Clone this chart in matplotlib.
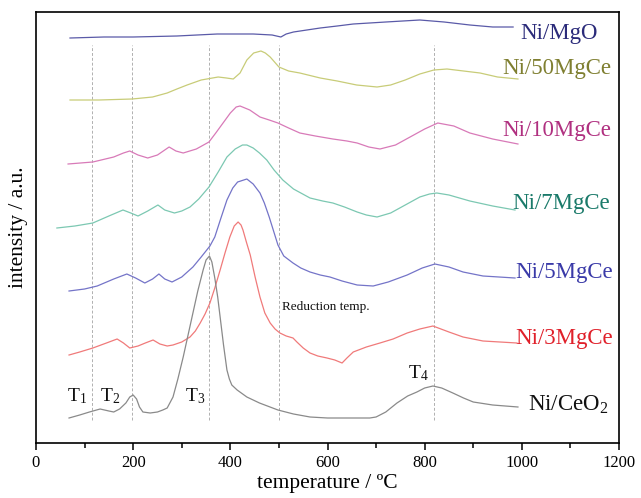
import matplotlib
matplotlib.use("Agg")
import matplotlib.pyplot as plt
from matplotlib.ticker import MultipleLocator

plt.rcParams["font.family"] = ["Liberation Serif", "DejaVu Serif"]
plt.rcParams["mathtext.fontset"] = "custom"
plt.rcParams["mathtext.rm"] = "Liberation Serif"
plt.rcParams["mathtext.it"] = "Liberation Serif:italic"

# TPR profiles, stacked with an arbitrary offset (temperature in degC, signal in a.u.)
t_mgo = [70, 140, 200, 290, 373, 447, 486, 504, 515, 530, 585, 620, 653, 720, 790, 840, 893, 940, 982]
i_mgo = [405, 406, 406, 407, 409, 409, 408, 406, 409, 411, 415, 417, 419, 421, 423, 421, 418, 416, 416]

t_50 = [70, 130, 198, 240, 270, 290, 311, 340, 375, 392, 406, 420, 434, 448, 463, 472, 482, 491, 500,
        520, 543, 585, 620, 660, 702, 730, 760, 790, 819, 846, 880, 914, 950, 992]
i_50 = [343, 343, 344, 346, 350, 354, 358, 363, 366, 365, 364, 370, 383, 390, 392, 390, 386, 381, 376,
        372, 370, 365, 362, 358, 356, 358, 363, 369, 373, 374, 372, 370, 366, 364]

t_10 = [66, 117, 160, 180, 193, 210, 230, 250, 262, 274, 288, 303, 330, 356, 370, 385, 400, 412, 420,
        440, 461, 480, 498, 520, 543, 575, 611, 640, 661, 685, 708, 740, 770, 800, 827, 860, 893, 940, 992]
i_10 = [279, 281, 286, 290, 292, 288, 285, 288, 292, 296, 292, 290, 294, 301, 310, 320, 330, 336, 337,
        333, 326, 323, 320, 315, 310, 307, 304, 302, 300, 296, 294, 298, 306, 314, 320, 317, 310, 304, 299]

t_7 = [43, 80, 117, 150, 179, 195, 210, 230, 251, 265, 285, 300, 317, 335, 356, 375, 393, 410, 425, 434,
       447, 460, 475, 490, 508, 530, 564, 590, 611, 635, 661, 680, 702, 730, 760, 790, 810, 825, 850,
       893, 940, 986]
i_7 = [215, 217, 220, 227, 233, 230, 227, 232, 238, 233, 230, 232, 236, 244, 256, 271, 286, 294, 298, 298,
       295, 290, 283, 273, 263, 254, 245, 242, 240, 236, 231, 228, 226, 230, 238, 246, 249, 250, 248,
       242, 237, 233]

t_5 = [68, 100, 126, 160, 187, 205, 224, 240, 253, 265, 280, 300, 323, 340, 358, 368, 380, 393, 405, 415,
       434, 447, 461, 470, 480, 489, 498, 510, 529, 545, 564, 585, 605, 630, 661, 694, 725, 764, 795, 821,
       850, 879, 920, 986]
i_5 = [152, 154, 157, 164, 169, 165, 160, 164, 169, 164, 161, 166, 176, 186, 197, 206, 224, 243, 255, 261,
       264, 259, 250, 240, 226, 212, 198, 187, 180, 175, 171, 168, 166, 162, 158, 157, 161, 168, 175, 179,
       176, 171, 167, 165]

t_3 = [68, 90, 117, 145, 167, 180, 193, 210, 225, 241, 255, 270, 282, 300, 317, 328, 338, 348, 358, 368,
       379, 389, 399, 408, 416, 422, 426, 433, 441, 451, 461, 471, 482, 492, 502, 515, 529, 537, 550, 564,
       580, 599, 615, 630, 640, 653, 680, 708, 735, 764, 790, 817, 850, 879, 920, 990]
i_3 = [88, 91, 95, 100, 104, 100, 95, 97, 100, 103, 99, 97, 98, 101, 106, 112, 120, 129, 140, 155,
       173, 190, 206, 217, 221, 218, 213, 201, 188, 166, 146, 130, 120, 114, 110, 107, 105, 101, 95, 90,
       87, 85, 83, 80, 85, 91, 96, 100, 104, 110, 114, 117, 111, 106, 102, 100]

t_ce = [68, 90, 110, 132, 150, 160, 172, 185, 193, 200, 207, 213, 220, 235, 250, 261, 270, 282, 292, 303,
        313, 323, 333, 344, 350, 357, 362, 368, 374, 379, 386, 393, 398, 403, 414, 434, 460, 498, 530, 564,
        600, 632, 687, 700, 720, 743, 765, 784, 800, 817, 835, 858, 880, 900, 940, 992]
i_ce = [25, 28, 31, 34, 32, 31, 34, 40, 46, 48, 44, 36, 31, 30, 31, 33, 35, 46, 64, 86,
        108, 130, 152, 173, 183, 187, 181, 165, 146, 126, 98, 73, 64, 58, 53, 46, 40, 33, 29, 26,
        25, 25, 25, 26, 31, 40, 47, 51, 55, 57, 55, 50, 45, 41, 38, 36]

# reduction temperatures marked on the plot
t_marks = [115, 197, 356, 500, 819]

series = [
    (t_mgo, i_mgo, "#5a5aa8", "Ni/MgO", "#2b2b7a", 996, 410),
    (t_50, i_50, "#c8cc78", "Ni/50MgCe", "#7f7f30", 959, 375),
    (t_10, i_10, "#d87ab8", "Ni/10MgCe", "#b03080", 959, 313),
    (t_7, i_7, "#7cc8b2", "Ni/7MgCe", "#1a7a6a", 980, 240),
    (t_5, i_5, "#7474c8", "Ni/5MgCe", "#3a3aa8", 986, 171),
    (t_3, i_3, "#f07a7a", "Ni/3MgCe", "#e0202a", 986, 105),
    (t_ce, i_ce, "#8a8a8a", r"Ni/CeO$_\mathrm{2}$", "#111111", 1013, 38),
]

fig = plt.figure(figsize=(6.41, 4.98), dpi=100)
ax = fig.add_axes([36 / 641, 55 / 498, 583 / 641, 431 / 498])

for t in t_marks:
    ax.plot([t, t], [23, 398], color="#b0b0b0", lw=0.7, ls=(0, (3, 2)), zorder=1)

for t, i, lc, name, tc, lx, ly in series:
    ax.plot(t, i, color=lc, lw=0.9, zorder=2)
    ax.text(lx, ly, name, color=tc, fontsize=16.5, ha="left", va="center")

for label, x, y in [(r"T$_\mathrm{1}$", 64, 47), (r"T$_\mathrm{2}$", 132, 47),
                    (r"T$_\mathrm{3}$", 307, 47), (r"T$_\mathrm{4}$", 766, 70)]:
    ax.text(x, y, label, fontsize=14, ha="left", va="center", color="#111111")

ax.text(506, 136, "Reduction temp.", fontsize=9.5, ha="left", va="center", color="#111111")

ax.set_xlim(0, 1200)
ax.set_ylim(0, 431)
ax.xaxis.set_major_locator(MultipleLocator(200))
ax.xaxis.set_minor_locator(MultipleLocator(100))
ax.tick_params(axis="x", which="major", direction="out", length=5, width=1.1, labelsize=12)
ax.tick_params(axis="x", which="minor", direction="out", length=3.5, width=1.1)
ax.set_yticks([])
for s in ax.spines.values():
    s.set_linewidth(1.2)

ax.set_xlabel("temperature / ºC", fontsize=15.5, labelpad=2)
ax.set_ylabel("intensity / a.u.", fontsize=15.5, labelpad=6)

fig.savefig("out.png", dpi=100)
